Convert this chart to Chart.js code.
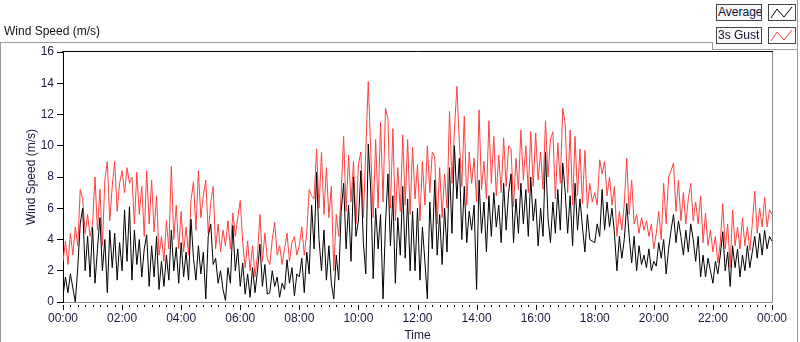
<!DOCTYPE html>
<html>
<head>
<meta charset="utf-8">
<script src="https://cdn.jsdelivr.net/npm/chart.js@4.4.1/dist/chart.umd.min.js"></script>
<style>
  body { margin: 0; background: #fff; }
  #wrap { position: relative; width: 800px; height: 342px; font-family: "Liberation Sans", Arial, sans-serif; color: #1a1a3a; }
  #wrap canvas { position: absolute; left: 0; top: 0; }
  .ln { position: absolute; background: #9a9a9a; }
  #title { position: absolute; left: 4px; top: 24px; font-size: 12px; color: #111; white-space: nowrap; }
  .lbox { position: absolute; left: 716px; width: 43px; height: 15px; border: 1px solid #444; background: #f7f7f7;
          font-size: 12px; line-height: 15px; padding-left: 1px; white-space: nowrap; overflow: hidden; color: #111133; }
  .swatch { position: absolute; left: 768px; width: 26px; height: 15px; border: 1px solid #444; background: #fff; }
  .swatch svg { display: block; }
</style>
</head>
<body>
<div id="wrap">
  <canvas id="windChart" width="800" height="342"></canvas>
  <div class="ln" style="left:0;top:42px;width:712px;height:1px"></div>
  <div class="ln" style="left:712px;top:42px;width:1px;height:8px"></div>
  <div class="ln" style="left:712px;top:49px;width:86px;height:1px"></div>
  <div class="ln" style="left:797px;top:0;width:1px;height:342px"></div>
  <div class="ln" style="left:0;top:42px;width:1px;height:300px"></div>
  <div id="title">Wind Speed (m/s)</div>
  <div class="lbox" style="top:4px">Average</div>
  <div class="swatch" style="top:4px"><svg width="26" height="15"><polyline points="2,13 8,4 15,12 23,2" fill="none" stroke="#000" stroke-width="1"/></svg></div>
  <div class="lbox" style="top:27px">3s Gust</div>
  <div class="swatch" style="top:27px"><svg width="26" height="15"><polyline points="2,13 8,4 15,12 23,2" fill="none" stroke="#ff4040" stroke-width="1"/></svg></div>
</div>
<script>
// Wind speed over one day, one value every 5 minutes (00:00 .. 24:00)
const stepMinutes = 5;
const timeLabels = ["00:00", "02:00", "04:00", "06:00", "08:00", "10:00", "12:00",
                    "14:00", "16:00", "18:00", "20:00", "22:00", "00:00"];

// 3 s gust (red), one row per hour
const gust = [
  2.6, 3.9, 2.4, 4.4, 3.0, 4.8, 3.6, 7.2, 6.6, 4.4, 5.6, 4.2,
  5.0, 8.0, 4.6, 7.2, 3.6, 7.8, 9.0, 5.2, 7.4, 9.0, 5.8, 7.6,
  8.4, 7.0, 8.6, 7.6, 8.0, 5.0, 8.3, 5.6, 7.4, 4.2, 8.4, 5.0,
  7.8, 4.5, 6.8, 3.0, 4.2, 2.6, 5.2, 3.4, 8.7, 4.0, 6.2, 3.4,
  5.8, 3.2, 4.8, 3.0, 6.5, 7.7, 4.6, 8.4, 5.4, 6.8, 7.8, 4.4,
  6.3, 7.4, 3.4, 5.0, 3.2, 4.6, 3.6, 5.2, 3.4, 5.7, 4.2, 5.4,
  6.5, 3.8, 2.2, 3.9, 2.0, 3.6, 1.6, 3.0, 5.6, 2.6, 4.4, 2.8,
  2.4, 4.0, 5.1, 3.0, 3.6, 2.4, 3.4, 4.4, 2.6, 3.8, 4.2, 3.0,
  3.6, 4.8, 3.0, 4.4, 7.2, 6.8, 6.6, 9.8, 6.0, 9.6, 5.6, 8.6,
  5.4, 7.4, 2.0, 5.6, 4.2, 7.0, 10.6, 5.8, 9.4, 6.4, 9.0, 5.0,
  8.8, 9.6, 5.4, 9.7, 14.1, 9.7, 5.4, 10.4, 6.0, 11.5, 6.4, 12.4,
  11.7, 6.0, 11.1, 5.2, 8.6, 5.8, 10.7, 6.2, 10.4, 5.6, 9.9, 6.6,
  8.8, 5.2, 9.0, 6.2, 10.0, 7.0, 9.6, 9.3, 5.0, 8.6, 5.4, 8.2,
  6.0, 12.2, 7.6, 11.0, 13.8, 10.2, 7.4, 11.9, 6.2, 9.6, 7.6, 9.2,
  6.4, 12.3, 7.2, 9.0, 6.6, 11.6, 7.6, 10.6, 6.8, 9.4, 7.0, 10.5,
  7.4, 10.0, 9.8, 6.1, 9.2, 7.2, 11.0, 7.8, 10.0, 7.0, 10.9, 7.4,
  10.8, 7.8, 9.6, 7.2, 11.6, 8.0, 10.4, 10.9, 6.6, 10.2, 7.6, 12.4,
  11.4, 7.0, 11.0, 6.2, 10.6, 6.8, 9.8, 6.3, 9.7, 6.0, 7.6, 6.4,
  7.0, 6.2, 9.1, 8.2, 9.0, 6.8, 8.0, 6.2, 7.4, 4.2, 5.8, 4.6,
  6.3, 9.2, 5.6, 7.8, 5.0, 5.6, 4.4, 5.4, 4.6, 5.2, 4.2, 5.0,
  3.4, 4.4, 5.8, 4.0, 7.6, 5.0, 8.0, 8.4, 8.9, 5.8, 7.8, 5.2,
  7.0, 5.0, 6.6, 7.6, 5.2, 6.4, 5.0, 6.8, 3.8, 5.7, 3.6, 4.6,
  3.2, 4.2, 2.5, 3.8, 6.3, 3.4, 5.0, 2.2, 5.9, 3.6, 4.8, 3.4,
  5.4, 3.6, 4.8, 3.3, 5.0, 7.1, 4.4, 6.0, 4.8, 6.7, 4.8, 5.9,
  5.6
];

// Average (black), one row per hour
const average = [
  0.4, 1.6, 0.6, 1.8, 0.9, 0.0, 2.2, 5.0, 6.0, 2.0, 4.2, 1.6,
  4.8, 1.2, 3.4, 5.4, 2.0, 4.0, 0.6, 4.6, 2.2, 4.4, 1.4, 3.8,
  2.0, 5.9, 2.6, 6.1, 1.4, 4.6, 2.4, 4.0, 1.6, 3.4, 4.3, 1.0,
  3.6, 1.6, 4.2, 0.8, 2.6, 1.0, 3.0, 1.4, 4.6, 2.0, 3.5, 1.2,
  3.8, 1.6, 3.2, 1.4, 5.3, 2.8, 1.4, 3.6, 1.8, 3.2, 0.2, 4.2,
  5.0, 2.4, 2.8, 1.2, 2.0, 0.8, 0.1, 2.2, 1.2, 4.9, 2.0, 3.4,
  1.0, 2.5, 0.5, 1.8, 0.3, 2.2, 0.6, 2.0, 3.7, 1.0, 2.4, 0.5,
  0.6, 2.0, 1.0, 1.6, 0.3, 1.2, 0.8, 2.7, 1.2, 2.2, 0.4, 1.8,
  1.6, 2.8, 0.6, 3.2, 1.8, 6.2, 3.4, 8.3, 4.0, 2.0, 4.6, 1.4,
  3.6, 1.2, 0.2, 3.0, 1.4, 5.8, 7.6, 3.4, 6.2, 2.6, 8.0, 4.2,
  5.2, 8.4, 3.8, 1.8, 10.1, 7.2, 1.5, 6.0, 3.4, 5.6, 0.2, 5.0,
  8.2, 3.6, 6.8, 1.2, 5.4, 3.0, 7.4, 2.8, 6.6, 2.0, 5.8, 2.0,
  6.0, 1.4, 4.8, 2.6, 0.2, 6.4, 3.4, 7.8, 3.0, 5.6, 2.4, 6.0,
  3.2, 8.6, 4.4, 10.0, 6.6, 9.2, 4.0, 7.4, 3.8, 5.8, 4.6, 6.2,
  0.8, 7.8, 4.4, 6.4, 3.2, 6.8, 4.2, 7.0, 4.8, 6.2, 3.8, 7.6,
  4.6, 7.0, 8.2, 3.8, 6.6, 4.4, 7.6, 5.0, 7.2, 4.2, 8.0, 5.2,
  6.6, 3.6, 6.0, 4.2, 9.6, 5.4, 3.8, 6.4, 4.4, 7.2, 4.6, 8.9,
  7.0, 4.4, 6.8, 3.6, 7.6, 4.6, 6.6, 4.8, 3.2, 5.6, 4.0, 3.9,
  3.8, 5.0, 4.2, 7.2, 4.6, 6.4, 4.8, 6.0, 4.4, 2.0, 4.2, 2.8,
  4.0, 6.3, 4.2, 2.5, 4.2, 2.0, 3.6, 2.4, 3.0, 2.2, 3.4, 2.0,
  2.6, 2.3, 3.8, 2.8, 4.0, 1.8, 3.4, 4.6, 5.6, 3.8, 5.2, 4.2,
  3.0, 4.6, 3.2, 5.0, 4.0, 2.6, 4.2, 1.6, 3.0, 1.6, 2.8, 2.0,
  1.2, 2.6, 1.8, 3.0, 4.5, 2.0, 3.2, 1.0, 3.6, 2.2, 3.4, 1.6,
  3.0, 2.0, 3.6, 2.2, 3.2, 4.2, 2.8, 4.4, 3.0, 4.6, 3.4, 4.2,
  3.9
];

const textColor = "#1a1a3a";
const toPoints = (arr) => arr.map((v, i) => ({ x: i * stepMinutes, y: v }));

// top border, right border and the x-axis tick marks (long every 2 h, short every 15 min)
const framePlugin = {
  id: "frame",
  afterDraw(chart) {
    const { ctx, chartArea: a, scales: { x } } = chart;
    ctx.save();
    ctx.lineWidth = 1;
    ctx.strokeStyle = "#000";
    ctx.beginPath();
    ctx.moveTo(a.left - 1, Math.round(a.top) - 0.5);
    ctx.lineTo(a.right + 1, Math.round(a.top) - 0.5);
    ctx.stroke();
    ctx.strokeStyle = "#8c8c8c";
    ctx.beginPath();
    ctx.moveTo(Math.round(a.right) + 0.5, a.top);
    ctx.lineTo(Math.round(a.right) + 0.5, a.bottom);
    ctx.stroke();
    ctx.strokeStyle = "#000";
    x.ticks.forEach(t => {
      const px = Math.round(x.getPixelForValue(t.value)) + 0.5;
      const len = t.value % 120 === 0 ? 5 : 2;
      ctx.beginPath();
      ctx.moveTo(px, a.bottom + 3);
      ctx.lineTo(px, a.bottom + 3 + len);
      ctx.stroke();
    });
    ctx.restore();
  }
};

new Chart(document.getElementById("windChart"), {
  type: "line",
  data: {
    datasets: [
      { label: "Average", data: toPoints(average), borderColor: "#000", borderWidth: 1, pointRadius: 0, tension: 0 },
      { label: "3s Gust", data: toPoints(gust), borderColor: "#ff4040", borderWidth: 1, pointRadius: 0, tension: 0 }
    ]
  },
  options: {
    responsive: false,
    animation: false,
    parsing: false,
    layout: { padding: { top: 52, right: 28, bottom: 0, left: 0 } },
    plugins: { legend: { display: false }, tooltip: { enabled: false } },
    scales: {
      x: {
        type: "linear",
        min: 0,
        max: 1440,
        afterFit: (s) => { s.height = 40; },
        border: { display: true, color: "#8c8c8c" },
        grid: { display: false },
        ticks: {
          stepSize: 15,
          autoSkip: false,
          maxRotation: 0,
          padding: 1,
          color: textColor,
          font: { family: "Liberation Sans", size: 12 },
          callback: (v) => v % 120 === 0 ? timeLabels[v / 120] : ""
        },
        title: { display: true, text: "Time", color: textColor, padding: { top: 0, bottom: -1 },
                 font: { family: "Liberation Sans", size: 12 } }
      },
      y: {
        min: 0,
        max: 16,
        afterFit: (s) => { s.width = 63; },
        border: { display: true, color: "#000" },
        grid: { drawOnChartArea: false, drawTicks: true, tickLength: 6, color: "#000" },
        ticks: { stepSize: 2, padding: 3, color: textColor, font: { family: "Liberation Sans", size: 12 } },
        title: { display: true, text: "Wind Speed (m/s)", color: textColor, padding: { top: 24, bottom: 0 },
                 font: { family: "Liberation Sans", size: 12 } }
      }
    }
  },
  plugins: [framePlugin]
});
</script>
</body>
</html>
